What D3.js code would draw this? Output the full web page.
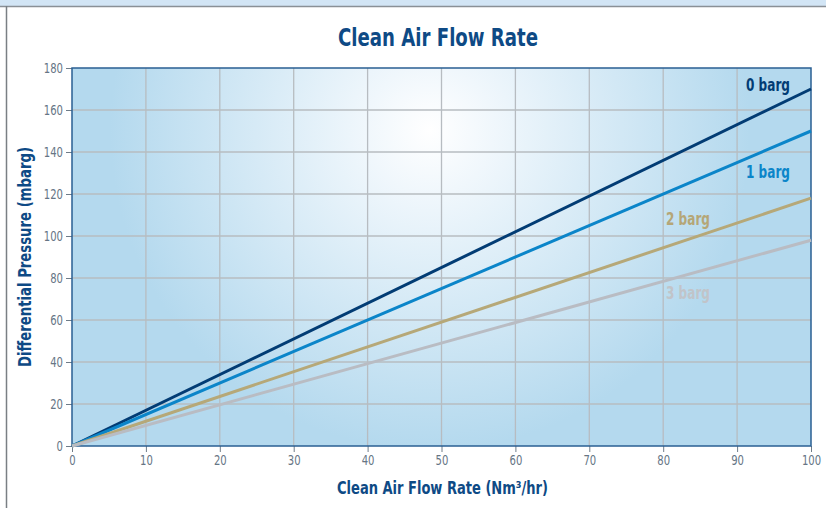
<!DOCTYPE html>
<html>
<head>
<meta charset="utf-8">
<script src="https://cdn.jsdelivr.net/npm/d3@7"></script>
<style>
	body { margin: 0; background: #fff; }
	svg { display: block; }
</style>
</head>
<body>
<div id="app"></div>
<script>
// chart data
const flowRates = [0, 100]
const pressure0 = [0, 170]
const pressure1 = [0, 150]
const pressure2 = [0, 118]
const pressure3 = [0, 98]
const seriesNames = ['0 barg', '1 barg', '2 barg', '3 barg']
const xTicks = [0, 10, 20, 30, 40, 50, 60, 70, 80, 90, 100]
const yTicks = [0, 20, 40, 60, 80, 100, 120, 140, 160, 180]

const width = 826
const height = 508
const margin = { top: 68, right: 15, bottom: 62, left: 72 }
const plotW = width - margin.left - margin.right
const plotH = height - margin.top - margin.bottom

const condensed = '"DejaVu Sans Condensed", "Liberation Sans Narrow", sans-serif'
const navy = '#0e4a85'

const svg = d3.select('#app').append('svg')
	.attr('width', width)
	.attr('height', height)

// page frame: light band on top and grey rules
svg.append('rect').attr('x', 0).attr('y', 0).attr('width', width).attr('height', 6).attr('fill', '#d2e5f5')
svg.append('line').attr('x1', 0).attr('x2', width).attr('y1', 6.5).attr('y2', 6.5)
	.style('stroke', '#8a9096').style('stroke-width', 1.5)
svg.append('line').attr('x1', 6.5).attr('x2', 6.5).attr('y1', 6).attr('y2', height)
	.style('stroke', '#7a7f84').style('stroke-width', 1.5)

// radial glow for the plot background
const defs = svg.append('defs')
const grad = defs.append('radialGradient')
	.attr('id', 'glow')
	.attr('gradientUnits', 'userSpaceOnUse')
	.attr('cx', 430).attr('cy', 130).attr('r', 320)
grad.append('stop').attr('offset', '0%').attr('stop-color', '#ffffff')
grad.append('stop').attr('offset', '20%').attr('stop-color', '#f0f7fc')
grad.append('stop').attr('offset', '100%').attr('stop-color', '#b4d9ee')

const x = d3.scaleLinear().domain([0, 100]).range([margin.left, margin.left + plotW])
const y = d3.scaleLinear().domain([0, 180]).range([margin.top + plotH, margin.top])

svg.append('rect')
	.attr('x', margin.left).attr('y', margin.top)
	.attr('width', plotW).attr('height', plotH)
	.attr('fill', 'url(#glow)')

// grid lines
svg.append('g').selectAll('line.vx')
	.data(xTicks.slice(1, -1))
	.enter().append('line')
	.attr('x1', (d) => x(d)).attr('x2', (d) => x(d))
	.attr('y1', margin.top).attr('y2', margin.top + plotH)
	.style('stroke', '#b7bcc1').style('stroke-width', 1.3)

svg.append('g').selectAll('line.hy')
	.data(yTicks.slice(1, -1))
	.enter().append('line')
	.attr('x1', margin.left).attr('x2', margin.left + plotW)
	.attr('y1', (d) => y(d)).attr('y2', (d) => y(d))
	.style('stroke', '#b7bcc1').style('stroke-width', 1.3)

// axes
const xAxis = svg.append('g')
	.attr('transform', `translate(0, ${margin.top + plotH})`)
	.call(d3.axisBottom(x).tickValues(xTicks).tickSize(6).tickPadding(3))
const yAxis = svg.append('g')
	.attr('transform', `translate(${margin.left}, 0)`)
	.call(d3.axisLeft(y).tickValues(yTicks).tickSize(6).tickPadding(3))

// squeeze tick labels to look condensed
;[xAxis, yAxis].forEach((a) => {
	a.select('.domain').remove()
	a.selectAll('.tick line').style('stroke', '#6f7c88')
	a.selectAll('.tick text')
		.style('font-family', condensed)
		.style('font-size', '14.5px')
		.style('fill', '#667585')
		.attr('textLength', (d) => String(d).length * 6.4)
		.attr('lengthAdjust', 'spacingAndGlyphs')
})

// plot border
svg.append('rect')
	.attr('x', margin.left).attr('y', margin.top)
	.attr('width', plotW).attr('height', plotH)
	.attr('fill', 'none')
	.style('stroke', '#2a5f93').style('stroke-width', 1.5)

// series lines
const series = [pressure0, pressure1, pressure2, pressure3]
const colors = ['#023c74', '#0b85c9', '#b6a878', '#b9bcc3']
const labelColors = ['#023c74', '#0b85c9', '#b5a677', '#c1c4c9']
const line = d3.line().x((d, i) => x(flowRates[i])).y((d) => y(d))

svg.append('g').selectAll('path')
	.data(series)
	.enter().append('path')
	.attr('d', (d) => line(d))
	.attr('fill', 'none')
	.style('stroke', (d, i) => colors[i])
	.style('stroke-width', 3)

// series labels
const labelPos = [[790, 91], [790, 178], [710, 225], [710, 299]]
svg.append('g').selectAll('text')
	.data(seriesNames)
	.enter().append('text')
	.attr('x', (d, i) => labelPos[i][0] - 44)
	.attr('y', (d, i) => labelPos[i][1])
	.attr('textLength', 44)
	.attr('lengthAdjust', 'spacingAndGlyphs')
	.style('font-family', condensed)
	.style('font-weight', 'bold')
	.style('font-size', '17px')
	.style('fill', (d, i) => labelColors[i])
	.text((d) => d)

// title
svg.append('text')
	.attr('x', 338).attr('y', 46)
	.attr('textLength', 200)
	.attr('lengthAdjust', 'spacingAndGlyphs')
	.style('font-family', condensed)
	.style('font-weight', 'bold')
	.style('font-size', '24px')
	.style('fill', navy)
	.text('Clean Air Flow Rate')

// x axis label
svg.append('text')
	.attr('x', 337).attr('y', 494)
	.attr('textLength', 211)
	.attr('lengthAdjust', 'spacingAndGlyphs')
	.style('font-family', condensed)
	.style('font-weight', 'bold')
	.style('font-size', '17px')
	.style('fill', navy)
	.text('Clean Air Flow Rate (Nm³/hr)')

// y axis label
svg.append('text')
	.attr('transform', `translate(31, ${margin.top + plotH / 2}) rotate(-90)`)
	.attr('x', -110)
	.attr('textLength', 220)
	.attr('lengthAdjust', 'spacingAndGlyphs')
	.style('font-family', condensed)
	.style('font-weight', 'bold')
	.style('font-size', '17px')
	.style('fill', navy)
	.text('Differential Pressure (mbarg)')
</script>
</body>
</html>
